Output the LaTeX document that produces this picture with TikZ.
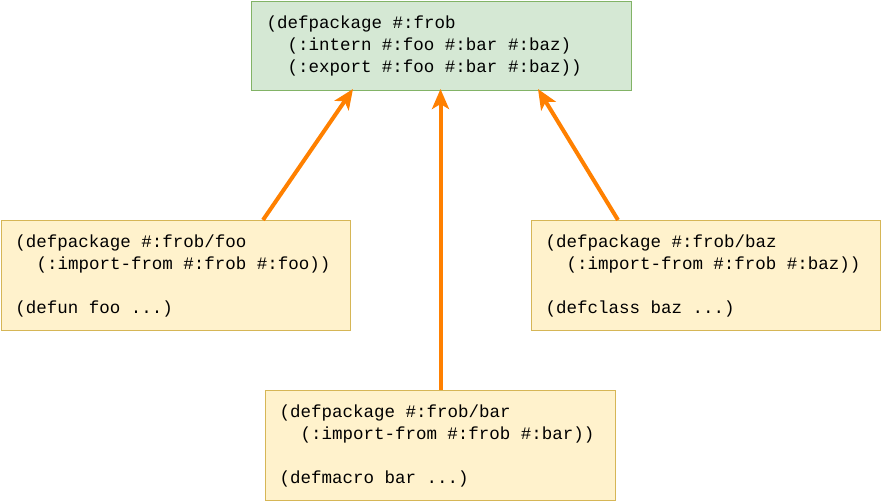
\documentclass[tikz,border=0pt]{standalone}
\usepackage{fontspec}
\setmonofont{Liberation Mono}
\usetikzlibrary{arrows.meta}
\definecolor{gfill}{HTML}{D5E8D4}
\definecolor{gline}{HTML}{82B366}
\definecolor{yfill}{HTML}{FFF2CC}
\definecolor{yline}{HTML}{D6B656}
\definecolor{arrc}{HTML}{FF8000}
\newcommand\ksp{\hspace*{0.6em}}
\begin{document}
\begin{tikzpicture}[x=1pt,y=-1pt,
  code/.style={font=\ttfamily\fontsize{17.5}{22}\selectfont, align=left, anchor=north west, line width=1pt, inner ysep=0pt},
  greenbox/.style={code, fill=gfill, draw=gline},
  yellowbox/.style={code, fill=yfill, draw=yline},
  arr/.style={draw=arrc, line width=4pt, -{Stealth[length=20pt,width=17pt,inset=5pt]}}]
\useasboundingbox (0,0) rectangle (881,501);
\node[greenbox, minimum width=380pt, minimum height=89pt, text width=350pt, inner xsep=15pt] (frob) at (251,1)
  {(defpackage\ksp\#:frob\\\ksp\ksp(:intern\ksp\#:foo\ksp\#:bar\ksp\#:baz)\\\ksp\ksp(:export\ksp\#:foo\ksp\#:bar\ksp\#:baz))};
\node[yellowbox, minimum width=349pt, minimum height=110pt, text width=321pt, inner xsep=14pt] (foo) at (1,220)
  {(defpackage\ksp\#:frob/foo\\\ksp\ksp(:import-from\ksp\#:frob\ksp\#:foo))\\\mbox{}\\(defun\ksp foo\ksp...)};
\node[yellowbox, minimum width=349pt, minimum height=110pt, text width=321pt, inner xsep=14pt] (baz) at (531,220)
  {(defpackage\ksp\#:frob/baz\\\ksp\ksp(:import-from\ksp\#:frob\ksp\#:baz))\\\mbox{}\\(defclass\ksp baz\ksp...)};
\node[yellowbox, minimum width=350pt, minimum height=110pt, text width=322pt, inner xsep=14pt] (bar) at (265,390)
  {(defpackage\ksp\#:frob/bar\\\ksp\ksp(:import-from\ksp\#:frob\ksp\#:bar))\\\mbox{}\\(defmacro\ksp bar\ksp...)};
\draw[arr] ([xshift=262pt]foo.north west) -- ([xshift=102pt,yshift=2pt]frob.south west);
\draw[arr] (bar.north) -- ([yshift=2pt]bar.north |- frob.south);
\draw[arr] ([xshift=87pt]baz.north west) -- ([xshift=287pt,yshift=2pt]frob.south west);
\end{tikzpicture}
\end{document}
